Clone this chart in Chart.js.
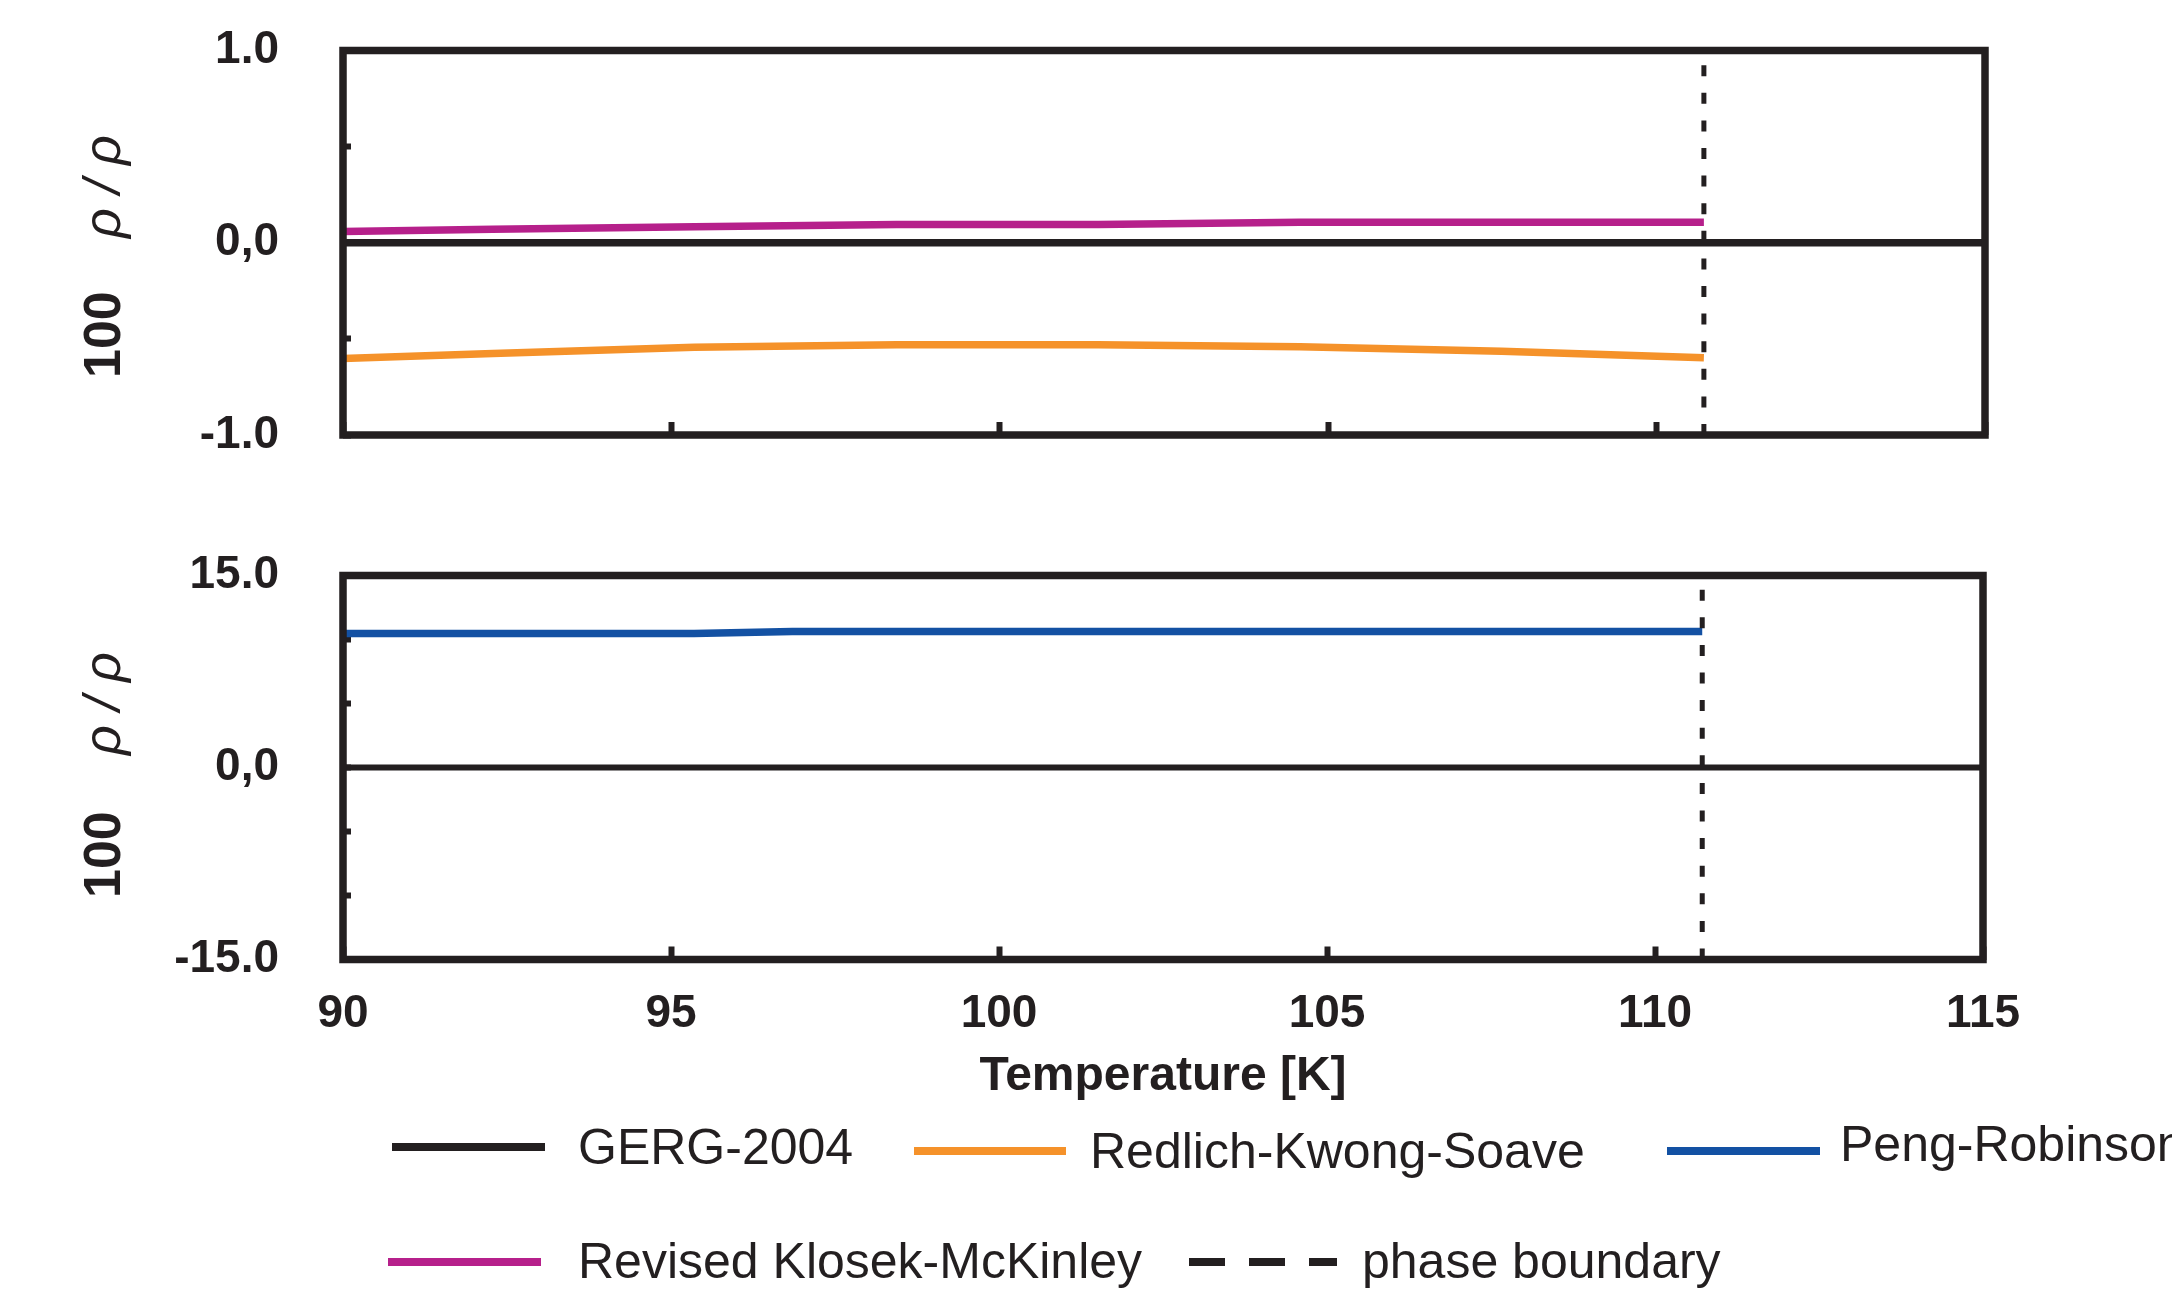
<!DOCTYPE html>
<html lang="en">
<head>
<meta charset="utf-8">
<script src="https://cdn.jsdelivr.net/npm/chart.js@4.4.0/dist/chart.umd.min.js"></script>
<style>
html,body{margin:0;padding:0;background:#fff;overflow:hidden;width:2172px;height:1295px;}
#wrap{position:relative;width:2172px;height:1295px;overflow:hidden;background:#fff;}
canvas{position:absolute;left:0;}
#c1{top:0;}
#c2{top:520px;}
.leg-line{position:absolute;height:8px;}
.leg-text{position:absolute;font-family:"Liberation Sans",Arial,Helvetica,sans-serif;font-size:50px;line-height:50px;color:#231f20;white-space:nowrap;}
</style>
</head>
<body>
<div id="wrap">
<canvas id="c1" width="2172" height="460"></canvas>
<canvas id="c2" width="2172" height="600"></canvas>
<div id="legend"></div>
</div>
<script>
// ---------- data ----------
const temps = [90, 92.28, 95.35, 98.43, 101.5, 104.57, 107.64, 110.72];
const rksDev = [-0.602, -0.576, -0.543, -0.530, -0.530, -0.541, -0.564, -0.598];
const rkmDev = [0.059, 0.070, 0.083, 0.095, 0.095, 0.107, 0.107, 0.107];
const prTemps = [90, 92.28, 95.35, 96.85, 98.43, 101.5, 104.57, 107.64, 110.72];
const prDev = [10.46, 10.46, 10.46, 10.62, 10.62, 10.62, 10.62, 10.62, 10.62];
const gergTemps = [90, 115];
const gergDev = [0, 0];
const phaseBoundaryT = 110.72;

const xTickValues = [90, 95, 100, 105, 110, 115];
const xTickLabels = ['90', '95', '100', '105', '110', '115'];
const topYTickValues = [-1, 0, 1];
const topYTickLabels = ['-1.0', '0,0', '1.0'];
const botYTickValues = [-15, 0, 15];
const botYTickLabels = ['-15.0', '0,0', '15.0'];
const seriesNames = ['GERG-2004', 'Redlich-Kwong-Soave', 'Peng-Robinson', 'Revised Klosek-McKinley', 'phase boundary'];
const xTitle = 'Temperature [K]';
const yTitleFactor = '100';
const yTitleRatio = 'ρ / ρ';

// ---------- styles ----------
const INK = '#231f20';
const ORANGE = '#f5922a';
const BLUE = '#1351a3';
const MAGENTA = '#b6208b';
const FONT = '"Liberation Sans", Arial, Helvetica, sans-serif';

function pts(xs, ys) { return xs.map((x, i) => ({ x: x, y: ys[i] })); }

const framePlugin = {
  id: 'frame',
  afterDatasetsDraw(chart, args, o) {
    const a = chart.chartArea, ctx = chart.ctx;
    ctx.save();
    ctx.strokeStyle = INK;
    ctx.lineWidth = o.width || 7.5;
    ctx.strokeRect(a.left, a.top, a.right - a.left, a.bottom - a.top);
    ctx.restore();
  }
};

const yTitlePlugin = {
  id: 'yTitle',
  afterDraw(chart, args, o) {
    const ctx = chart.ctx;
    ctx.save();
    ctx.fillStyle = INK;
    ctx.textAlign = 'left';
    ctx.textBaseline = 'alphabetic';
    ctx.translate(o.baseX, o.numStart);
    ctx.rotate(-Math.PI / 2);
    ctx.font = 'bold 52px ' + FONT;
    ctx.fillText(yTitleFactor, 0, 0);
    ctx.restore();
    ctx.save();
    ctx.fillStyle = INK;
    ctx.textAlign = 'left';
    ctx.textBaseline = 'alphabetic';
    ctx.translate(o.baseX, o.symStart);
    ctx.rotate(-Math.PI / 2);
    ctx.font = 'italic 52px ' + FONT;
    ctx.fillText(yTitleRatio, 0, 0);
    ctx.restore();
  }
};

function lineDs(label, data, color, width, extra) {
  return Object.assign({
    label: label, data: data, borderColor: color, backgroundColor: color,
    borderWidth: width, pointRadius: 0, pointHoverRadius: 0, tension: 0, fill: false
  }, extra || {});
}

function noPad(s) { s.paddingTop = 0; s.paddingBottom = 0; s.paddingLeft = 0; s.paddingRight = 0; }

function makePanel(canvasId, cfg) {
  const datasets = [
    lineDs(seriesNames[0], pts(gergTemps, gergDev), INK, cfg.gergWidth),
    lineDs(seriesNames[4], pts([phaseBoundaryT, phaseBoundaryT], [cfg.yMin, cfg.yMax]), INK, 5, { borderDash: [11, 16.6] })
  ].concat(cfg.series);

  return new Chart(document.getElementById(canvasId), {
    type: 'line',
    data: { datasets: datasets },
    options: {
      responsive: false,
      animation: false,
      devicePixelRatio: 1,
      events: [],
      layout: { padding: cfg.padding },
      plugins: {
        legend: { display: false },
        tooltip: { enabled: false },
        frame: { width: 7.5 },
        yTitle: cfg.yTitle
      },
      scales: {
        x: {
          type: 'linear', position: 'bottom', min: 90, max: 115,
          afterBuildTicks: (s) => { s.ticks = xTickValues.map(v => ({ value: v })); },
          afterFit: (s) => { s.height = cfg.xHeight; noPad(s); },
          border: { display: false },
          grid: { display: true, drawOnChartArea: false, drawTicks: true, tickLength: -13, tickWidth: 6, tickColor: INK },
          ticks: {
            display: cfg.showX, autoSkip: false, maxRotation: 0, padding: 40,
            color: INK, font: { family: FONT, size: 46, weight: 'bold' },
            callback: (v) => { const i = xTickValues.indexOf(v); return i >= 0 ? xTickLabels[i] : ''; }
          },
          title: {
            display: cfg.showX, text: xTitle, color: INK,
            font: { family: FONT, size: 48, weight: 'bold' },
            padding: { top: 0, bottom: 14.7 }
          }
        },
        y: {
          type: 'linear', position: 'left', min: cfg.yMin, max: cfg.yMax,
          afterFit: (s) => { s.width = 343; noPad(s); },
          border: { display: false },
          grid: { display: true, drawOnChartArea: false, drawTicks: true, tickLength: -8, tickWidth: 6, tickColor: INK },
          ticks: {
            stepSize: cfg.yStep, autoSkip: false, padding: 72,
            color: INK, font: { family: FONT, size: 46, weight: 'bold' },
            callback: (v) => { const i = cfg.yTickValues.indexOf(v); return i >= 0 ? cfg.yTickLabels[i] : ''; }
          }
        }
      }
    },
    plugins: [framePlugin, yTitlePlugin]
  });
}

makePanel('c1', {
  yMin: -1, yMax: 1, yStep: 0.5,
  yTickValues: topYTickValues, yTickLabels: topYTickLabels,
  padding: { left: 0, top: 50.5, right: 187, bottom: 0 },
  xHeight: 25, showX: false, gergWidth: 7.5,
  yTitle: { baseX: 120, numStart: 378, symStart: 238 },
  series: [
    lineDs(seriesNames[1], pts(temps, rksDev), ORANGE, 7.5),
    lineDs(seriesNames[3], pts(temps, rkmDev), MAGENTA, 7.5)
  ]
});

makePanel('c2', {
  yMin: -15, yMax: 15, yStep: 5,
  yTickValues: botYTickValues, yTickLabels: botYTickLabels,
  padding: { left: 0, top: 55.5, right: 189, bottom: 0 },
  xHeight: 160.5, showX: true, gergWidth: 6,
  yTitle: { baseX: 120, numStart: 378, symStart: 235 },
  series: [
    lineDs(seriesNames[2], pts(prTemps, prDev), BLUE, 7.5)
  ]
});

// ---------- legend (HTML) ----------
const legendItems = [
  { i: 0, color: INK, lx: 392, lw: 153, ly: 1147, tx: 578, ty: 1146 },
  { i: 1, color: ORANGE, lx: 914, lw: 152, ly: 1150.5, tx: 1090, ty: 1150 },
  { i: 2, color: BLUE, lx: 1667, lw: 153, ly: 1150.5, tx: 1840, ty: 1143 },
  { i: 3, color: MAGENTA, lx: 388, lw: 153, ly: 1262, tx: 578, ty: 1260 },
  { i: 4, color: INK, dashes: [[1189, 36], [1249, 36], [1309, 28]], ly: 1262, tx: 1362, ty: 1260 }
];
const legend = document.getElementById('legend');
legendItems.forEach(it => {
  const segs = it.dashes || [[it.lx, it.lw]];
  segs.forEach(sg => {
    const d = document.createElement('div');
    d.className = 'leg-line';
    d.style.left = sg[0] + 'px';
    d.style.width = sg[1] + 'px';
    d.style.top = (it.ly - 4) + 'px';
    d.style.background = it.color;
    legend.appendChild(d);
  });
  const t = document.createElement('div');
  t.className = 'leg-text';
  t.style.left = it.tx + 'px';
  t.style.top = (it.ty - 24.4) + 'px';
  t.textContent = seriesNames[it.i];
  legend.appendChild(t);
});
</script>
</body>
</html>
